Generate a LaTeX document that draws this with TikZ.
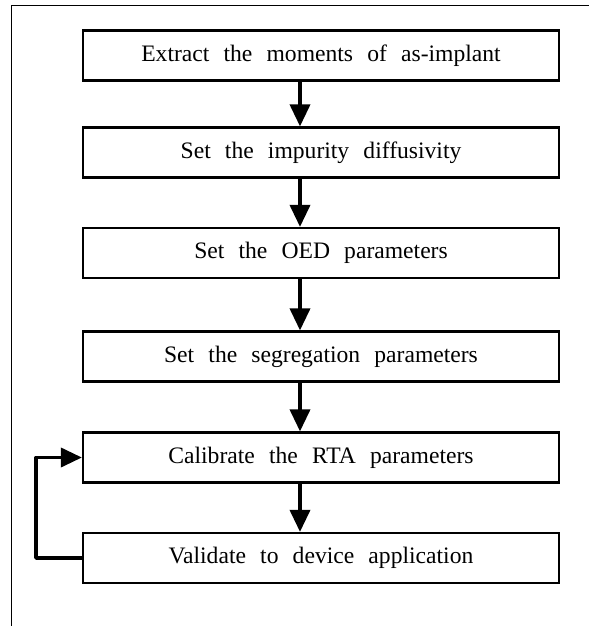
\documentclass[tikz,border=0pt]{standalone}
\usepackage{fontspec}
\setmainfont{Liberation Serif}
\newfontfamily\boxfont{Liberation Serif}[WordSpace=2.4]
\usetikzlibrary{arrows.meta}
\begin{document}
\begin{tikzpicture}[x=1pt,y=-1pt,
  stepbox/.style={draw,line width=2.2pt,minimum width=476pt,minimum height=50pt,inner sep=0pt,
    font=\boxfont\fontsize{23.6}{27}\selectfont},
  flow/.style={line width=3.6pt,-{Triangle[width=20pt,length=22pt]}},
  loopline/.style={line width=3.6pt,-{Triangle[width=19pt,length=21pt]}}]
\useasboundingbox (0,0) rectangle (589,626);
\fill[white] (0,0) rectangle (589,626);
% outer frame
\draw[line width=1.3pt] (11.5,626) -- (11.5,5.5) -- (589,5.5);
\node[stepbox] (b1) at (321,55.5) {Extract the moments of as-implant};
\node[stepbox] (b2) at (321,152.5) {Set the impurity diffusivity};
\node[stepbox] (b3) at (321,253) {Set the OED parameters};
\node[stepbox] (b4) at (321,356.5) {Set the segregation parameters};
\node[stepbox] (b5) at (321,457.5) {Calibrate the RTA parameters};
\node[stepbox] (b6) at (321,558) {Validate to device application};
\coordinate (ax) at (300,0);
\coordinate (lx) at (36,0);
\draw[flow] (b1.south -| ax) -- (b2.north -| ax);
\draw[flow] (b2.south -| ax) -- (b3.north -| ax);
\draw[flow] (b3.south -| ax) -- (b4.north -| ax);
\draw[flow] (b4.south -| ax) -- (b5.north -| ax);
\draw[flow] (b5.south -| ax) -- (b6.north -| ax);
\draw[loopline,line join=round] (b6.west) -- (b6.west -| lx) -- (b5.west -| lx) -- (b5.west);
\end{tikzpicture}
\end{document}
